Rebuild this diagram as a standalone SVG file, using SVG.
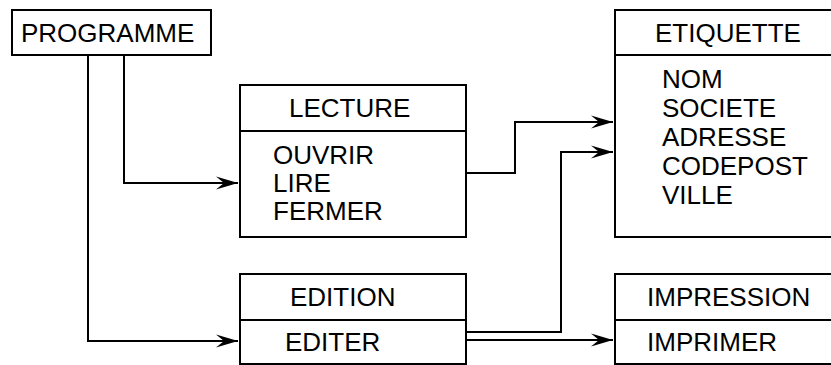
<svg xmlns="http://www.w3.org/2000/svg" width="831" height="365" viewBox="0 0 831 365">
<style>
.box{fill:#fff;stroke:#000;stroke-width:2}
.t{font-family:"Liberation Sans",Arial,sans-serif;font-size:26px;fill:#000}
.c{fill:none;stroke:#000;stroke-width:2}
</style>
<defs>
<marker id="ah" markerUnits="userSpaceOnUse" markerWidth="24" markerHeight="14" refX="0" refY="0" viewBox="-23 -7 24 14" orient="auto" overflow="visible">
<path d="M0,0 L-22,-6.5 L-14,0 L-22,6.5 Z" fill="#000"/>
</marker>
</defs>
<rect width="831" height="365" fill="#fff"/>
<g id="connectors">
<path class="c" d="M88,55 V341 H238" marker-end="url(#ah)"/>
<path class="c" d="M124,55 V183 H238" marker-end="url(#ah)"/>
<path class="c" d="M466,173 H515 V122 H613" marker-end="url(#ah)"/>
<path class="c" d="M466,332 H561 V152 H613" marker-end="url(#ah)"/>
<path class="c" d="M466,340 H613" marker-end="url(#ah)"/>
</g>
<g id="programme">
<rect class="box" x="12" y="10" width="199" height="45"/>
<text class="t" x="21" y="42">PROGRAMME</text>
</g>
<g id="lecture">
<rect class="box" x="240" y="85" width="226" height="152"/>
<line class="c" x1="240" y1="131" x2="466" y2="131"/>
<text class="t" x="289" y="117">LECTURE</text>
<text class="t" x="273" y="164">OUVRIR</text>
<text class="t" x="273" y="192">LIRE</text>
<text class="t" x="273" y="220">FERMER</text>
</g>
<g id="etiquette">
<rect class="box" x="615" y="10" width="240" height="227"/>
<line class="c" x1="615" y1="55" x2="855" y2="55"/>
<text class="t" x="655" y="42">ETIQUETTE</text>
<text class="t" x="662" y="88">NOM</text>
<text class="t" x="662" y="117">SOCIETE</text>
<text class="t" x="662" y="146">ADRESSE</text>
<text class="t" x="662" y="175">CODEPOST</text>
<text class="t" x="662" y="204">VILLE</text>
</g>
<g id="edition">
<rect class="box" x="240" y="274" width="226" height="90"/>
<line class="c" x1="240" y1="320" x2="466" y2="320"/>
<text class="t" x="290" y="306">EDITION</text>
<text class="t" x="285" y="351">EDITER</text>
</g>
<g id="impression">
<rect class="box" x="615" y="274" width="240" height="90"/>
<line class="c" x1="615" y1="320" x2="855" y2="320"/>
<text class="t" x="647" y="306">IMPRESSION</text>
<text class="t" x="647" y="351">IMPRIMER</text>
</g>
</svg>
